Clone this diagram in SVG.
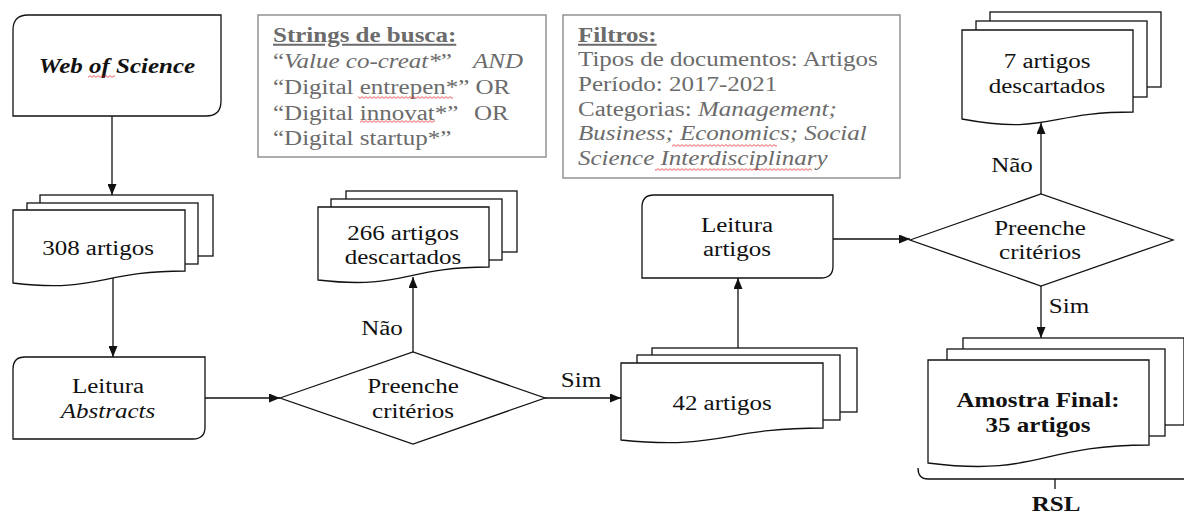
<svg xmlns="http://www.w3.org/2000/svg" width="1184" height="515" viewBox="0 0 1184 515">
<style>
.bx{fill:#fff;stroke:#111;stroke-width:1.3}
.gb{fill:#fff;stroke:#8a8a8a;stroke-width:1.4}
.t{font-family:"Liberation Serif","Times New Roman",serif;font-size:20px;fill:#111}
.c{text-anchor:middle}
.g{fill:#6b6b6b}
.i{font-style:italic}
.b{font-weight:bold}
.u{text-decoration:underline}
.ln{fill:none;stroke:#111;stroke-width:1.3}
.sq{fill:url(#sq)}
</style>
<defs>
<marker id="ah" viewBox="0 0 11 9" refX="11" refY="4.5" markerWidth="11" markerHeight="9" markerUnits="userSpaceOnUse" orient="auto"><path d="M0,0 L11,4.5 L0,9 z" fill="#111"/></marker>
<pattern id="sq" width="4" height="3" patternUnits="userSpaceOnUse"><path d="M0,2.4 L2,0.6 L4,2.4" fill="none" stroke="#e03030" stroke-width="0.8"/></pattern>
</defs>

<g id="web-of-science">
<path class="bx" d="M28,15 H221 V101 Q221,116 206,116 H13 V30 Q13,15 28,15 Z"/>
<text class="t c i b" transform="matrix(1.25 0 0 1 117 0)" y="73">Web of Science</text>
<rect class="sq" x="88" y="75" width="27" height="3"/>
</g>

<g id="strings">
<rect class="gb" x="258" y="15" width="288" height="142"/>
<text class="t g b u" transform="matrix(1.25 0 0 1 273 0)" y="42">Strings de busca:</text>
<text class="t g" transform="matrix(1.25 0 0 1 273 0)" y="68">“<tspan class="i">Value co-creat*</tspan>”</text>
<text class="t g i" transform="matrix(1.25 0 0 1 473 0)" y="68">AND</text>
<text class="t g" transform="matrix(1.25 0 0 1 273 0)" y="94">“Digital entrepen*” OR</text>
<text class="t g" transform="matrix(1.25 0 0 1 273 0)" y="120">“Digital innovat*”</text>
<text class="t g" transform="matrix(1.25 0 0 1 474 0)" y="120">OR</text>
<text class="t g" transform="matrix(1.25 0 0 1 273 0)" y="145">“Digital startup*”</text>
<rect class="sq" x="358" y="96" width="95" height="3"/>
<rect class="sq" x="360" y="120" width="75" height="3"/>
</g>

<g id="filtros">
<rect class="gb" x="563" y="15" width="337" height="163"/>
<text class="t g b u" transform="matrix(1.25 0 0 1 578 0)" y="42">Filtros:</text>
<text class="t g" transform="matrix(1.25 0 0 1 578 0)" y="66.5">Tipos de documentos: Artigos</text>
<text class="t g" transform="matrix(1.25 0 0 1 578 0)" y="91">Período: 2017-2021</text>
<text class="t g" transform="matrix(1.25 0 0 1 578 0)" y="116">Categorias: <tspan class="i">Management;</tspan></text>
<text class="t g i" transform="matrix(1.25 0 0 1 578 0)" y="140.5">Business; Economics; Social</text>
<text class="t g i" transform="matrix(1.25 0 0 1 578 0)" y="165">Science Interdisciplinary</text>
<rect class="sq" x="672" y="144" width="105" height="3"/>
<rect class="sq" x="655" y="168" width="157" height="3"/>
</g>

<g id="doc-308">
<rect class="bx" x="40" y="195" width="173" height="61"/>
<rect class="bx" x="27" y="203" width="171" height="61"/>
<path class="bx" d="M13,210 H185 V271 C99,271 99,293 13,283 Z"/>
<text class="t c" transform="matrix(1.25 0 0 1 98 0)" y="255">308 artigos</text>
</g>

<g id="leitura-abstracts">
<path class="bx" d="M25,357 H205 V427 Q205,439 193,439 H13 V369 Q13,357 25,357 Z"/>
<text class="t c" transform="matrix(1.25 0 0 1 108 0)" y="393">Leitura</text>
<text class="t c i" transform="matrix(1.25 0 0 1 108 0)" y="418">Abstracts</text>
</g>

<g id="decisao-1">
<path class="bx" d="M280,398 L413,352 L545,398 L413,444 Z"/>
<text class="t c" transform="matrix(1.25 0 0 1 413 0)" y="393">Preenche</text>
<text class="t c" transform="matrix(1.25 0 0 1 413 0)" y="418">critérios</text>
</g>

<g id="doc-266">
<rect class="bx" x="346" y="191" width="171" height="61"/>
<rect class="bx" x="331" y="199" width="171" height="61"/>
<path class="bx" d="M318,207 H489 V267 C403.5,267 403.5,290 318,280 Z"/>
<text class="t c" transform="matrix(1.25 0 0 1 403 0)" y="240">266 artigos</text>
<text class="t c" transform="matrix(1.25 0 0 1 403 0)" y="264">descartados</text>
</g>

<g id="doc-42">
<rect class="bx" x="652" y="348" width="205" height="64"/>
<rect class="bx" x="637" y="355" width="203" height="65"/>
<path class="bx" d="M621,363 H823 V428 C722,428 722,450 621,440 Z"/>
<text class="t c" transform="matrix(1.25 0 0 1 722 0)" y="410">42 artigos</text>
</g>

<g id="leitura-artigos">
<path class="bx" d="M654,195 H833 V266 Q833,278 821,278 H642 V207 Q642,195 654,195 Z"/>
<text class="t c" transform="matrix(1.25 0 0 1 737 0)" y="232">Leitura</text>
<text class="t c" transform="matrix(1.25 0 0 1 737 0)" y="256">artigos</text>
</g>

<g id="decisao-2">
<path class="bx" d="M910,240 L1041,194 L1173,240 L1041,286 Z"/>
<text class="t c" transform="matrix(1.25 0 0 1 1040 0)" y="235">Preenche</text>
<text class="t c" transform="matrix(1.25 0 0 1 1040 0)" y="259">critérios</text>
</g>

<g id="doc-7">
<rect class="bx" x="990" y="12" width="171" height="75"/>
<rect class="bx" x="976" y="21" width="171" height="76"/>
<path class="bx" d="M962,30 H1133 V112 C1047.5,112 1047.5,135 962,119 Z"/>
<text class="t c" transform="matrix(1.25 0 0 1 1047 0)" y="68">7 artigos</text>
<text class="t c" transform="matrix(1.25 0 0 1 1047 0)" y="93">descartados</text>
</g>

<g id="amostra-final">
<rect class="bx" x="963" y="338" width="221" height="87"/>
<rect class="bx" x="947" y="349" width="218" height="87"/>
<path class="bx" d="M928,360 H1149 V445 C1038.5,445 1038.5,477 928,463 Z"/>
<text class="t c b" transform="matrix(1.25 0 0 1 1038 0)" y="407">Amostra Final:</text>
<text class="t c b" transform="matrix(1.25 0 0 1 1038 0)" y="432">35 artigos</text>
</g>

<g id="rsl">
<path class="ln" d="M918,468 Q918,479 928,479 H1184 M1055,479 V489"/>
<text class="t c b" transform="matrix(1.25 0 0 1 1056 0)" y="511">RSL</text>
</g>

<g id="connectors">
<path class="ln" d="M112,116 V195" marker-end="url(#ah)"/>
<path class="ln" d="M113,278 V357" marker-end="url(#ah)"/>
<path class="ln" d="M205,398 H280" marker-end="url(#ah)"/>
<path class="ln" d="M413,352 V277" marker-end="url(#ah)"/>
<path class="ln" d="M545,398 H621" marker-end="url(#ah)"/>
<path class="ln" d="M738,348 V278" marker-end="url(#ah)"/>
<path class="ln" d="M833,239 H910" marker-end="url(#ah)"/>
<path class="ln" d="M1041,194 V123" marker-end="url(#ah)"/>
<path class="ln" d="M1041,286 V338" marker-end="url(#ah)"/>
<text class="t c" transform="matrix(1.25 0 0 1 382 0)" y="335">Não</text>
<text class="t c" transform="matrix(1.25 0 0 1 581 0)" y="387">Sim</text>
<text class="t c" transform="matrix(1.25 0 0 1 1012 0)" y="172">Não</text>
<text class="t c" transform="matrix(1.25 0 0 1 1069 0)" y="313">Sim</text>
</g>
</svg>
